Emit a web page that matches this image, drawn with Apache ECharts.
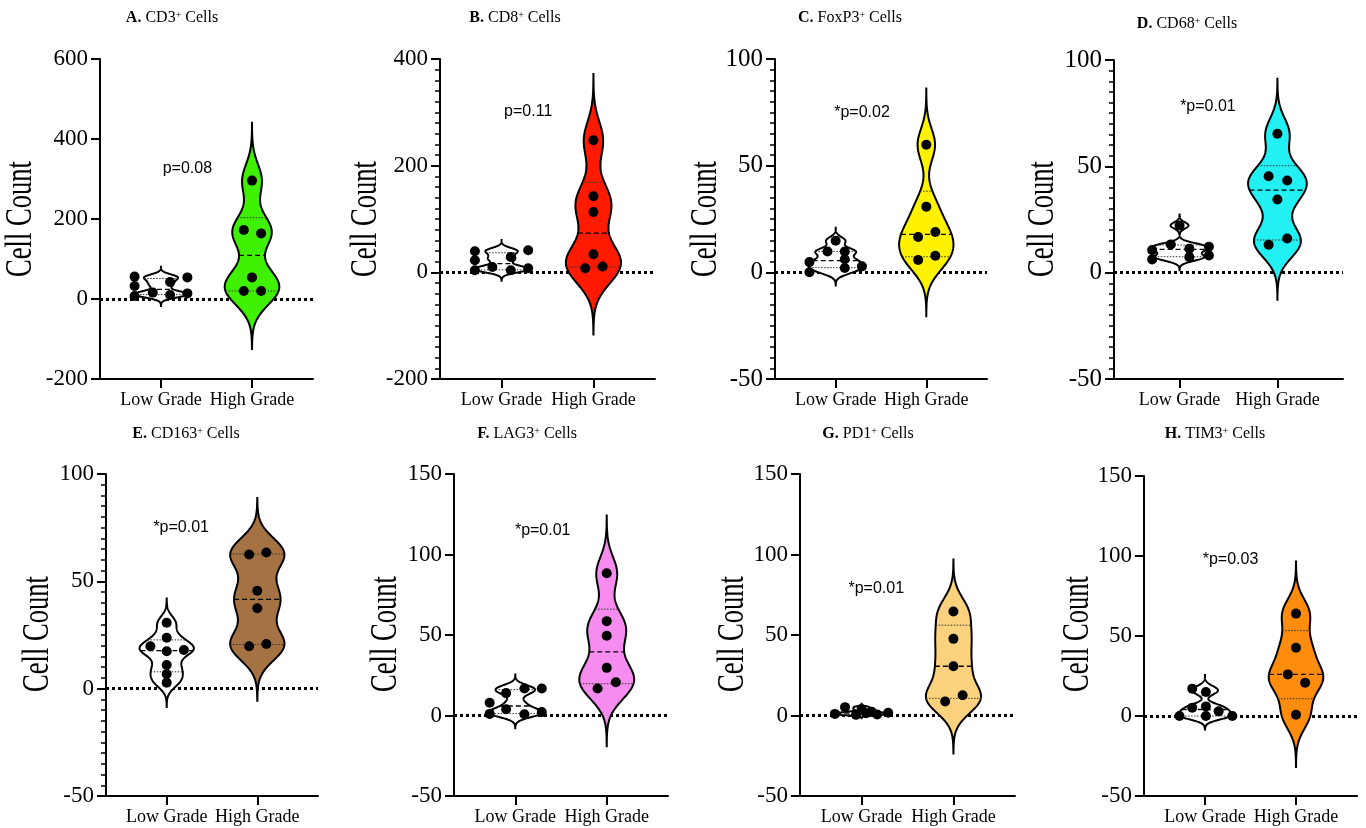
<!DOCTYPE html>
<html><head><meta charset="utf-8">
<script src="https://cdn.jsdelivr.net/npm/echarts@6/dist/echarts.min.js"></script>
<style>html,body{margin:0;padding:0;background:#fff}#c{width:1366px;height:828px}</style>
</head><body><div id="c"></div><script>
// ---------------- DATA ----------------
const categories = ['Low Grade', 'High Grade'];
const panelLetters = ['A.', 'B.', 'C.', 'D.', 'E.', 'F.', 'G.', 'H.'];
const markers = ['CD3', 'CD8', 'FoxP3', 'CD68', 'CD163', 'LAG3', 'PD1', 'TIM3'];
const pValues = ['p=0.08', 'p=0.11', '*p=0.02', '*p=0.01', '*p=0.01', '*p=0.01', '*p=0.01', '*p=0.03'];
const yAxisTitle = 'Cell Count';
const yMin = [-200, -200, -50, -50, -50, -50, -50, -50];
const yMax = [600, 400, 100, 100, 100, 150, 150, 150];
const yInterval = [200, 200, 50, 50, 50, 50, 50, 50];

const cd3Low = [56, 32.5, 7.5, 16, 42.5, 10, 54, 14];
const cd3LowJitter = [-0.29, -0.29, -0.29, -0.09, 0.1, 0.1, 0.29, 0.29];
const cd3High = [296, 172.5, 164, 54, 20, 20];
const cd3HighJitter = [0, -0.09, 0.1, 0, -0.09, 0.1];

const cd8Low = [39.4, 22.5, 3.75, 10, 28.75, 3.75, 41.25, 7.5];
const cd8LowJitter = [-0.29, -0.29, -0.29, -0.1, 0.1, 0.1, 0.29, 0.29];
const cd8High = [247.5, 142.5, 113, 34, 7.5, 11];
const cd8HighJitter = [0, 0, 0, 0, -0.09, 0.1];

const foxp3Low = [0, 4.8, 9.8, 14.8, 9.8, 6.1, 2, 2.8];
const foxp3LowJitter = [-0.29, -0.29, -0.09, 0, 0.1, 0.1, 0.1, 0.29];
const foxp3High = [59.8, 30.8, 16.6, 18.9, 5.8, 7.8];
const foxp3HighJitter = [0, 0, -0.09, 0.1, -0.09, 0.1];

const cd68Low = [6.25, 10.6, 13.3, 22.2, 11.25, 7.3, 12.2, 8.1];
const cd68LowJitter = [-0.28, -0.28, -0.09, 0, 0.1, 0.1, 0.3, 0.3];
const cd68High = [65.3, 45.3, 43.3, 34.4, 16.1, 13.1];
const cd68HighJitter = [0, -0.09, 0.1, 0, 0.1, -0.09];

const cd163Low = [30.7, 23.7, 19.8, 17.4, 18.0, 11.0, 6.8, 2.8];
const cd163LowJitter = [0, 0, -0.18, 0, 0.19, 0, 0, 0];
const cd163High = [62.5, 63.4, 45.6, 37.5, 19.8, 20.8];
const cd163HighJitter = [-0.09, 0.1, 0, 0, -0.09, 0.1];

const lag3Low = [7.9, 1.0, 13.9, 3.9, 16.8, 0.8, 16.8, 2.1];
const lag3LowJitter = [-0.28, -0.28, -0.1, -0.1, 0.1, 0.1, 0.29, 0.29];
const lag3High = [88.3, 58.6, 49.5, 29.6, 16.8, 20.7];
const lag3HighJitter = [0, 0, 0, 0, -0.1, 0.1];

const pd1Low = [1.0, 5.2, 0.4, 3.9, 1.4, 2.3, 0.6, 1.7];
const pd1LowJitter = [-0.29, -0.18, -0.06, 0, 0.05, 0.11, 0.17, 0.29];
const pd1High = [64.6, 47.6, 30.6, 12.6, 8.7];
const pd1HighJitter = [0, 0, 0, 0.1, -0.09];

const tim3Low = [17.1, 15, 5.2, 6.0, 2.9, 0, 0, 0];
const tim3LowJitter = [-0.14, 0.01, -0.14, 0.01, 0.15, -0.28, 0.01, 0.3];
const tim3High = [64, 42.7, 26, 20.8, 0.8];
const tim3HighJitter = [0, 0, -0.09, 0.1, 0];

const lowGroups = [cd3Low, cd8Low, foxp3Low, cd68Low, cd163Low, lag3Low, pd1Low, tim3Low];
const lowJitters = [cd3LowJitter, cd8LowJitter, foxp3LowJitter, cd68LowJitter, cd163LowJitter, lag3LowJitter, pd1LowJitter, tim3LowJitter];
const highGroups = [cd3High, cd8High, foxp3High, cd68High, cd163High, lag3High, pd1High, tim3High];
const highJitters = [cd3HighJitter, cd8HighJitter, foxp3HighJitter, cd68HighJitter, cd163HighJitter, lag3HighJitter, pd1HighJitter, tim3HighJitter];

// ---------------- STYLE / LAYOUT ----------------
const highColors = ['#3FF000', '#FF1A00', '#FFF200', '#22F0F2', '#A57343', '#F68CF0', '#FCD27E', '#FF8C0D'];
const hasMinor = [false, true, true, true, true, false, false, false];
const labelSize = [23, 23, 25, 25, 23, 23, 23, 23];
const layout = [
  {left: 100, top: 59, width: 213, height: 320, tx: 172, ty: 18, nx: 21, ny: 219, px: 1.29, py: 325},
  {left: 440, top: 59, width: 215, height: 320, tx: 515, ty: 18, nx: 366, ny: 219, px: 1.29, py: 302},
  {left: 775, top: 59, width: 212, height: 320, tx: 850, ty: 18, nx: 706, ny: 219, px: 1.29, py: 75},
  {left: 1114, top: 60, width: 229, height: 319, tx: 1187, ty: 24, nx: 1043, ny: 219, px: 1.29, py: 78},
  {left: 106, top: 474, width: 212, height: 322, tx: 186, ty: 434, nx: 38, ny: 634, px: 1.16, py: 75},
  {left: 454, top: 474, width: 214, height: 322, tx: 527, ty: 434, nx: 386, ny: 634, px: 1.30, py: 115},
  {left: 800, top: 474, width: 215, height: 322, tx: 868, ty: 434, nx: 733, ny: 634, px: 1.16, py: 79},
  {left: 1144, top: 476, width: 213, height: 320, tx: 1215, ty: 434, nx: 1078, ny: 634, px: 1.28, py: 98}
];
const SERIF = "'Liberation Serif', 'Times New Roman', serif";
const SANS = "'Liberation Sans', Arial, sans-serif";
const MAX_HALF = 0.3;

// ---------------- STATS (KDE violin) ----------------
function quantile(sorted, p) {
  const n = sorted.length, pos = (n + 1) * p;
  if (pos <= 1) return sorted[0];
  if (pos >= n) return sorted[n - 1];
  const lo = Math.floor(pos);
  return sorted[lo - 1] + (pos - lo) * (sorted[lo] - sorted[lo - 1]);
}
function violinShape(vals) {
  const s = vals.slice().sort((a, b) => a - b), n = s.length;
  const mean = s.reduce((a, b) => a + b, 0) / n;
  const sd = Math.sqrt(s.reduce((a, b) => a + (b - mean) * (b - mean), 0) / (n - 1));
  const q1 = quantile(s, 0.25), q2 = quantile(s, 0.5), q3 = quantile(s, 0.75);
  let spread = Math.min(sd, (q3 - q1) / 1.34);
  if (!(spread > 0)) spread = sd;
  const h = 0.6 * 0.9 * spread * Math.pow(n, -0.2);
  const lo = s[0] - 3.5 * h, hi = s[n - 1] + 3.5 * h;
  const steps = 240, ys = [], d = [];
  const dens = y => s.reduce((a, v) => a + Math.exp(-0.5 * ((y - v) / h) ** 2), 0);
  for (let i = 0; i <= steps; i++) { const y = lo + (hi - lo) * i / steps; ys.push(y); d.push(dens(y)); }
  const dmax = Math.max(...d);
  const w = d.map(v => MAX_HALF * v / dmax);
  return {ys, w, quart: [q1, q2, q3], widthAt: y => MAX_HALF * dens(y) / dmax};
}

// ---------------- OPTION ----------------
const grid = [], xAxis = [], yAxis = [], series = [], graphic = [];
for (let i = 0; i < 8; i++) {
  const L = layout[i];
  grid.push({left: L.left, top: L.top, width: L.width, height: L.height, containLabel: false, outerBoundsMode: 'none'});
  xAxis.push({
    gridIndex: i, type: 'value', min: 0.33, max: 2.67,
    axisLine: {show: true, onZero: false, lineStyle: {color: '#000', width: 2}},
    axisTick: {show: true, customValues: [1, 2], length: 9, lineStyle: {color: '#000', width: 2}},
    axisLabel: {show: true, customValues: [1, 2], formatter: v => categories[Math.round(v) - 1] || '',
      fontFamily: SERIF, fontSize: 18, color: '#000', margin: 12},
    splitLine: {show: false}
  });
  yAxis.push({
    gridIndex: i, type: 'value', min: yMin[i], max: yMax[i], interval: yInterval[i],
    axisLine: {show: true, onZero: false, lineStyle: {color: '#000', width: 2}},
    axisTick: {show: true, length: 9, lineStyle: {color: '#000', width: 2}},
    minorTick: {show: hasMinor[i], splitNumber: 10, length: 5, lineStyle: {color: '#000', width: 1.5}},
    axisLabel: {fontFamily: SERIF, fontSize: labelSize[i], color: '#000', margin: 12},
    splitLine: {show: false}, minorSplitLine: {show: false}
  });
  // zero reference line
  series.push({
    type: 'line', xAxisIndex: i, yAxisIndex: i, data: [], z: 1, silent: true,
    markLine: {silent: true, z: 1, symbol: 'none', label: {show: false},
      lineStyle: {color: '#000', width: 3, type: [3, 3], opacity: 1}, data: [{yAxis: 0}]}
  });
  // violins
  const groups = [lowGroups[i], highGroups[i]];
  const fills = ['#FFFFFF', highColors[i]];
  const shapes = groups.map(violinShape);
  series.push({
    type: 'custom', xAxisIndex: i, yAxisIndex: i, z: 3, silent: true,
    data: [[1, 0], [2, 0]], encode: {x: 0, y: 1},
    renderItem: (params, api) => {
      const k = params.dataIndex, s = shapes[k], cx = k + 1;
      const right = [], left = [];
      for (let j = 0; j < s.ys.length; j++) {
        right.push(api.coord([cx + s.w[j], s.ys[j]]));
        left.push(api.coord([cx - s.w[j], s.ys[j]]));
      }
      const pts = right.concat(left.reverse());
      const children = [{type: 'polygon', shape: {points: pts}, style: {fill: fills[k], stroke: '#000', lineWidth: 2}}];
      s.quart.forEach((q, m) => {
        const hw = s.widthAt(q);
        const p1 = api.coord([cx - hw, q]), p2 = api.coord([cx + hw, q]);
        children.push({type: 'line', shape: {x1: p1[0], y1: p1[1], x2: p2[0], y2: p2[1]},
          style: m === 1 ? {stroke: '#000', lineWidth: 1.3, lineDash: [5, 3]} : {stroke: '#333', lineWidth: 1, lineDash: [1.5, 1.5]}});
      });
      return {type: 'group', children};
    }
  });
  // points
  const pts = [];
  lowGroups[i].forEach((v, j) => pts.push([1 + lowJitters[i][j], v]));
  highGroups[i].forEach((v, j) => pts.push([2 + highJitters[i][j], v]));
  series.push({type: 'scatter', xAxisIndex: i, yAxisIndex: i, z: 4, silent: true,
    symbol: 'circle', symbolSize: 10, itemStyle: {color: '#000', opacity: 1}, data: pts});
  // p value label
  series.push({type: 'scatter', xAxisIndex: i, yAxisIndex: i, z: 5, silent: true,
    symbolSize: 0, itemStyle: {color: 'transparent', opacity: 1}, data: [[L.px, L.py]],
    label: {show: true, position: 'inside', formatter: pValues[i], fontFamily: SANS, fontSize: 16, color: '#000', opacity: 1}});
  // titles
  graphic.push({type: 'text', x: L.tx, y: L.ty, silent: true, style: {
    text: '{b|' + panelLetters[i] + '} ' + markers[i] + '{s|+} Cells',
    fontFamily: SERIF, fontSize: 16, fill: '#000', align: 'center', verticalAlign: 'middle',
    textAlign: 'center', textVerticalAlign: 'middle',
    rich: {b: {fontFamily: SERIF, fontSize: 16, fontWeight: 'bold', fill: '#000'},
      s: {fontFamily: SERIF, fontSize: 10, fill: '#000', verticalAlign: 'top', lineHeight: 10}}
  }});
  graphic.push({type: 'text', x: L.nx, y: L.ny, rotation: Math.PI / 2, scaleX: 0.7, silent: true, style: {
    text: yAxisTitle, fontFamily: SERIF, fontSize: 38, fill: '#000',
    align: 'center', verticalAlign: 'middle', textAlign: 'center', textVerticalAlign: 'middle'
  }});
}
const chart = echarts.init(document.getElementById('c'), null, {renderer: 'canvas'});
chart.setOption({animation: false, backgroundColor: '#fff', grid, xAxis, yAxis, series, graphic});
</script></body></html>
